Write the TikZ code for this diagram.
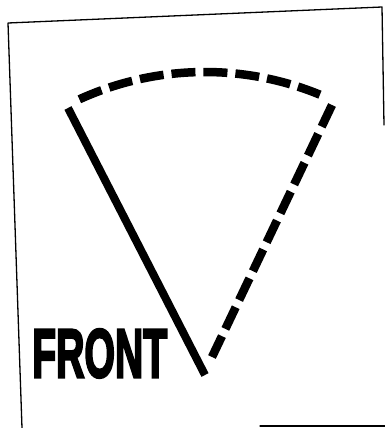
\documentclass[tikz,border=0pt]{standalone}
\usepackage{fontspec}
\setmainfont{Liberation Sans}
\newfontfamily\heavyfont[FakeBold=4]{Liberation Sans Bold}
\usetikzlibrary{calc}
\begin{document}
\begin{tikzpicture}[x=1pt,y=-1pt,
  frameline/.style={line width=1.3pt, line cap=round, line join=round},
  solidedge/.style={line width=8pt},
  dashedge/.style={line width=8.5pt, dash pattern=on 24pt off 8pt},
  label/.style={inner sep=0pt, anchor=south west}]
\useasboundingbox (0,0) rectangle (385,428);
% frame
\coordinate (fbl) at (22,428);
\coordinate (ftl) at (8,23);
\coordinate (ftr) at (382,7);
\coordinate (fr) at (384,125);
\coordinate (bl) at (260,426);
\coordinate (br) at (385,426);
\draw[frameline] (fbl) -- (ftl) -- (ftr) -- (fr);
\draw[frameline] (bl) -- (br);
% sector
\coordinate (apex) at (205,375);
\coordinate (leftend) at (68,108);
\coordinate (rightend) at (332,105);
\coordinate (rightlow) at (212,357);
\draw[solidedge] (apex) -- (leftend);
\draw[dashedge] (apex) ++(-114.5:303) arc[start angle=-114.5, end angle=-67.7, radius=303];
\draw[dashedge] (rightend) -- (rightlow);
% label
\node[label] (front) at (32,378) {\resizebox{135pt}{48pt}{\heavyfont FRONT}};
\end{tikzpicture}
\end{document}
